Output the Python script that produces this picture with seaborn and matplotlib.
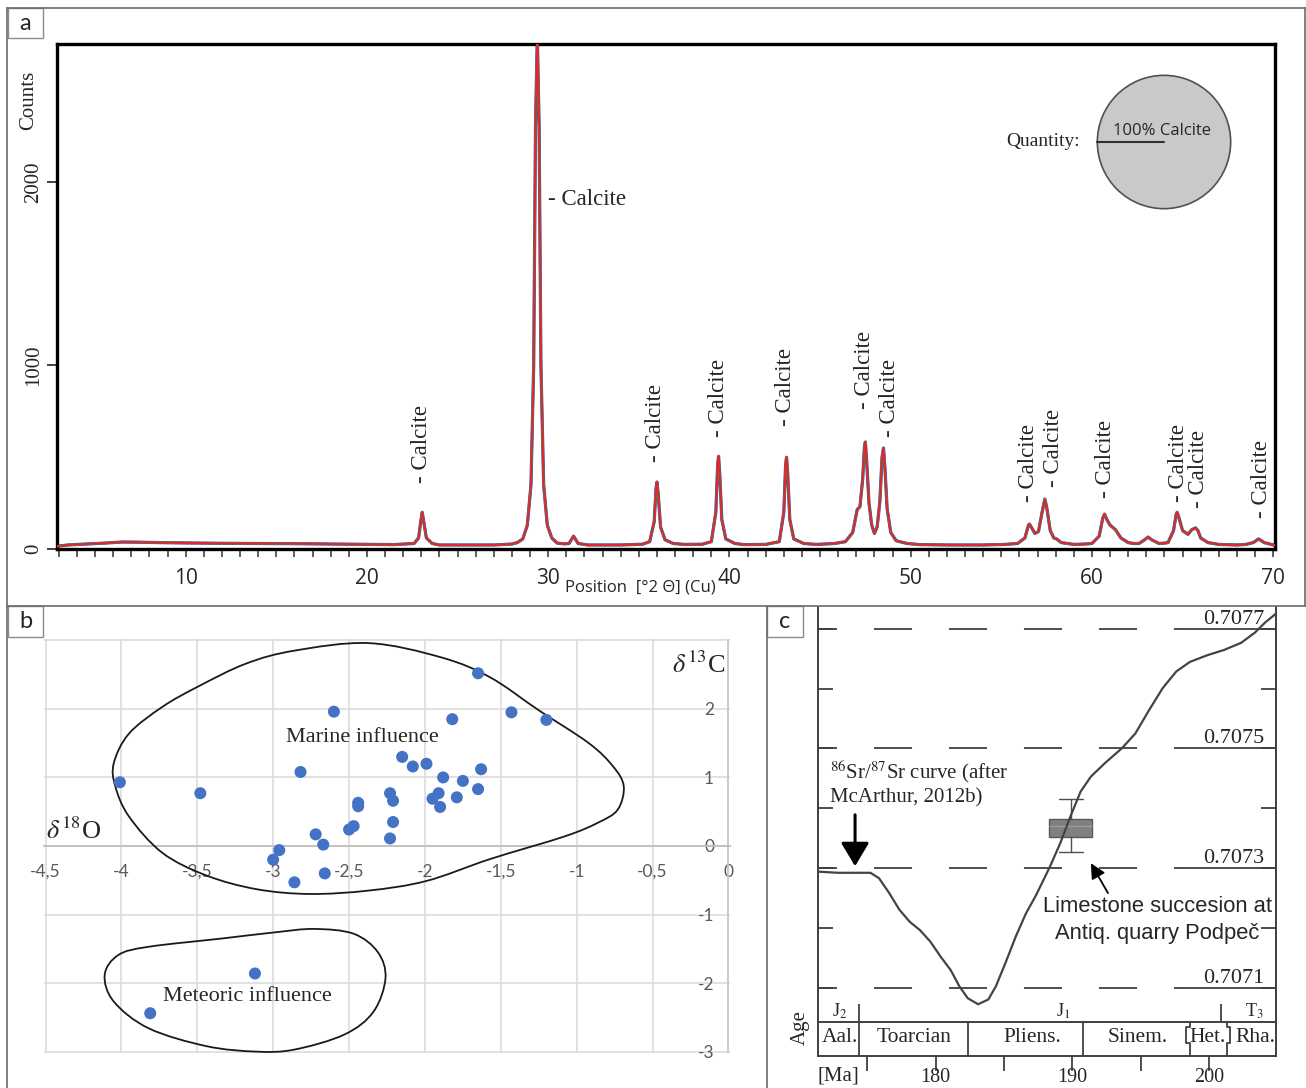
import numpy as np
import pandas as pd
import matplotlib
matplotlib.use('Agg')
import matplotlib.pyplot as plt
from matplotlib.path import Path
from matplotlib.patches import PathPatch, Rectangle
from matplotlib.lines import Line2D
import seaborn as sns

# --- panel a: XRD pattern ---
two_theta = [2.9, 3.5, 4.5, 5.5, 6.5, 7.5, 8.5, 10, 12, 14, 16, 18, 20, 21.5,
             22.6, 22.85, 22.97, 23.05, 23.13, 23.28, 23.6, 24, 25.5, 27, 28.0, 28.3,
             28.6, 28.85, 29.05, 29.2, 29.3, 29.4, 29.5, 29.6, 29.75, 29.95, 30.2, 30.5, 30.9,
             31.15, 31.4, 31.65, 32.2, 34, 35.2,
             35.6, 35.85, 35.95, 36.0, 36.07, 36.2, 36.45, 36.9, 37.5, 38.5,
             39.0, 39.25, 39.35, 39.4, 39.46, 39.58, 39.8, 40.3, 40.8, 42.0,
             42.75, 43.0, 43.1, 43.15, 43.21, 43.33, 43.55, 44.1, 44.8, 45.8,
             46.4, 46.8, 47.05, 47.2, 47.35, 47.45, 47.5, 47.57, 47.7, 47.85, 48.0,
             48.15, 48.3, 48.42, 48.5, 48.58, 48.7, 48.9, 49.2, 49.8, 50.5, 52, 54, 55.2,
             55.9, 56.3, 56.5, 56.55, 56.65, 56.85, 57.05, 57.25, 57.4, 57.5, 57.7,
             57.9, 58.05, 58.3, 59.0, 59.6,
             60.0, 60.4, 60.6, 60.7, 60.8, 61.0, 61.3, 61.6, 62.0, 62.3,
             62.6, 62.9, 63.1, 63.3, 63.7, 64.0,
             64.2, 64.5, 64.65, 64.7, 64.8, 65.0, 65.3, 65.5, 65.72, 65.85, 66.0, 66.4,
             67.0, 68.0, 68.5, 68.9, 69.2, 69.5, 70.1]
counts = [15, 22, 27, 32, 38, 37, 35, 33, 31, 30, 29, 27, 25, 24,
          30, 60, 150, 200, 150, 60, 30, 22, 22, 22, 27, 35,
          55, 130, 350, 1000, 2300, 2800, 2300, 1000, 350, 130, 60, 32, 28,
          30, 70, 30, 22, 22, 26,
          40, 150, 330, 365, 300, 120, 50, 30, 25, 26,
          40, 200, 460, 505, 420, 160, 55, 30, 24, 25,
          40, 200, 460, 500, 420, 160, 55, 30, 25, 30,
          40, 90, 215, 230, 380, 560, 583, 480, 250, 130, 85,
          120, 260, 500, 550, 440, 220, 90, 45, 30, 24, 22, 22, 25,
          30, 60, 130, 136, 120, 85, 95, 200, 272, 230, 100,
          60, 55, 35, 25, 27,
          30, 70, 170, 190, 165, 130, 105, 60, 35, 30,
          30, 50, 65, 50, 30, 32,
          35, 100, 190, 200, 170, 100, 80, 105, 115, 100, 60, 35,
          25, 22, 25, 35, 55, 35, 20]

peak_label_x = [23.02, 35.94, 39.41, 43.11, 47.47, 48.85, 56.52, 57.9, 60.77, 64.75, 65.9, 69.33]
peak_label_y = [360, 474, 610, 670, 763, 610, 256, 338, 278, 256, 223, 169]
main_label_xy = (30.0, 1907)
pie_share = [100]
pie_label = '100% Calcite'

# --- panel b: stable isotopes ---
d18O = [-1.65, -2.60, -1.43, -1.82, -1.20, -2.15, -2.08, -1.99, -2.82, -4.01,
        -1.88, -1.63, -1.75, -3.48, -2.23, -2.21, -1.91, -1.95, -1.79, -1.65,
        -1.90, -2.44, -2.44, -2.21, -2.47, -2.50, -2.72, -2.23, -2.67, -2.96,
        -3.00, -2.66, -2.86, -3.12, -3.81]
d13C = [2.52, 1.96, 1.95, 1.85, 1.84, 1.30, 1.16, 1.20, 1.08, 0.93,
        1.00, 1.12, 0.95, 0.77, 0.77, 0.66, 0.77, 0.69, 0.71, 0.83,
        0.57, 0.63, 0.58, 0.35, 0.29, 0.24, 0.17, 0.11, 0.02, -0.06,
        -0.20, -0.40, -0.53, -1.86, -2.44]
b_xticks = [-4.5, -4, -3.5, -3, -2.5, -2, -1.5, -1, -0.5, 0]
b_xticklabels = ['-4,5', '-4', '-3,5', '-3', '-2,5', '-2', '-1,5', '-1', '-0,5', '0']
b_yticks = [-3, -2, -1, 0, 1, 2, 3]
b_yticklabels = ['-3', '-2', '-1', '0', '1', '2', '']
marine_x = [-2.37, -1.89, -1.57, -1.25, -0.92, -0.76, -0.69, -0.73, -0.86, -1.08, -1.57,
            -1.99, -2.37, -2.76, -3.11, -3.44, -3.73, -3.95, -4.04, -4.05, -3.95, -3.73,
            -3.50, -3.18, -2.86]
marine_y = [2.96, 2.75, 2.46, 1.98, 1.50, 1.16, 0.87, 0.53, 0.34, 0.14, -0.19,
            -0.51, -0.65, -0.70, -0.63, -0.43, -0.10, 0.43, 0.87, 1.21, 1.64, 2.03,
            2.32, 2.66, 2.85]
meteoric_x = [-2.73, -2.47, -2.31, -2.26, -2.34, -2.53, -2.86, -3.11, -3.44, -3.82,
              -4.05, -4.11, -4.02, -3.82, -3.34, -2.99]
meteoric_y = [-1.21, -1.28, -1.55, -1.93, -2.42, -2.75, -2.97, -3.00, -2.92, -2.66,
              -2.27, -1.88, -1.59, -1.47, -1.35, -1.26]

# --- panel c: 87Sr/86Sr curve ---
sr_age = [171.36, 172.86, 175.24, 175.86, 176.61, 177.36, 178.11, 178.86, 179.61, 180.36,
          181.11, 181.74, 182.36, 183.11, 183.86, 184.41, 185.11, 185.86, 186.61, 187.36,
          188.36, 189.11, 189.86, 190.61, 191.36, 192.36, 193.61, 194.61, 195.61, 196.61,
          197.61, 198.61, 199.86, 201.11, 202.36, 203.36, 204.11, 204.86]
sr_ratio = [0.707294, 0.707292, 0.707292, 0.707283, 0.707258, 0.707230, 0.707210, 0.707196,
            0.707177, 0.707152, 0.707129, 0.707102, 0.707082, 0.707072, 0.707080, 0.707102,
            0.707141, 0.707185, 0.707224, 0.707255, 0.707302, 0.707341, 0.707386, 0.707428,
            0.707453, 0.707475, 0.707500, 0.707525, 0.707564, 0.707601, 0.707629, 0.707645,
            0.707656, 0.707665, 0.707677, 0.707694, 0.707711, 0.707725]
sample_box = dict(med=0.7073704, q1=0.7073525, q3=0.7073821,
                  whislo=0.7073263, whishi=0.7074156, fliers=[])
sample_age = 189.88
c_ticks = [0.7071, 0.7072, 0.7073, 0.7074, 0.7075, 0.7076, 0.7077]
c_labels = [0.7071, 0.7073, 0.7075, 0.7077]
stage_names = ['Aal.', 'Toarcian', 'Pliens.', 'Sinem.', 'Het.', 'Rha.']
stage_mid = [173.0, 178.4, 187.1, 194.75, 199.93, 203.4]
stage_bounds = [174.43, 182.35, 190.80]
period_names = ['J$_2$', 'J$_1$', 'T$_3$']
period_mid = [173.0, 189.3, 203.35]
period_bounds = [174.43, 200.91]
age_ticks = [175, 180, 185, 190, 195, 200]
age_labels = ['', '180', '', '190', '', '200']

sns.set_style('white')
plt.rcParams['font.family'] = ['Liberation Serif', 'DejaVu Serif']
plt.rcParams['mathtext.fontset'] = 'stix'
plt.rcParams['lines.scale_dashes'] = False

W, H = 1306, 1088
fig = plt.figure(figsize=(W / 100, H / 100), dpi=100)


def box(l, t, r, b):
    return [l / W, 1 - b / H, (r - l) / W, (b - t) / H]


def fline(x0, y0, x1, y1, **kw):
    fig.add_artist(Line2D([x0 / W, x1 / W], [1 - y0 / H, 1 - y1 / H], **kw))


def closed_outline(xs, ys):
    pts = np.column_stack([xs, ys])
    n = len(pts)
    verts = [pts[0]]
    codes = [Path.MOVETO]
    for i in range(n):
        p0, p1, p2, p3 = pts[i - 1], pts[i], pts[(i + 1) % n], pts[(i + 2) % n]
        verts += [p1 + (p2 - p0) / 6, p2 - (p3 - p1) / 6, p2]
        codes += [Path.CURVE4] * 3
    return Path(verts, codes)


# frame of the composite figure
frame = dict(color='#6b6b6b', lw=1.2)
fline(7, 8, 1306, 8, **frame)
fline(7, 8, 7, 1088, **frame)
fline(1305, 8, 1305, 606, **frame)
fline(7, 606, 1306, 606, **frame)
fline(767, 606, 767, 1088, **frame)
for letter, (l, t, r, b) in zip('abc', [(8, 8, 43, 38), (8, 606, 43, 637), (767, 606, 803, 637)]):
    fig.add_artist(Rectangle((l / W, 1 - b / H), (r - l) / W, (b - t) / H,
                             transform=fig.transFigure, facecolor='white',
                             edgecolor='#8c8c8c', lw=1))
    fig.text((l + r) / 2 / W, 1 - (t + b) / 2 / H, letter, ha='center', va='center',
             fontsize=17, family=['Lato', 'DejaVu Sans'])

# ================= panel a =================
ax_a = fig.add_axes(box(57, 44, 1275, 549))
df_xrd = pd.DataFrame({'two_theta': two_theta, 'counts': counts})
sns.lineplot(data=df_xrd, x='two_theta', y='counts', ax=ax_a, color='#3b40c8', lw=2.3, zorder=2)
sns.lineplot(data=df_xrd, x='two_theta', y='counts', ax=ax_a, color='#3c9c3c', lw=1.8, zorder=3)
sns.lineplot(data=df_xrd, x='two_theta', y='counts', ax=ax_a, color='#e8232b', lw=1.4, zorder=4)
ax_a.set_xlim(2.9, 70.1)
ax_a.set_ylim(0, 2752)
for s in ax_a.spines.values():
    s.set_linewidth(2.4)
    s.set_color('black')
ax_a.set_xticks(range(10, 71, 10))
ax_a.set_xticks(range(3, 71), minor=True)
ax_a.tick_params(axis='x', which='both', bottom=True, direction='out', length=6,
                 width=1.1, color='#333333', labelsize=15, pad=8)
ax_a.tick_params(axis='y', left=True, direction='out', length=7, width=1.3, color='#333333',
                 labelsize=15, pad=3)
ax_a.set_yticks([0, 1000, 2000], labels=['0', '1000', '2000'])
for lbl in ax_a.get_yticklabels():
    lbl.set_rotation(90)
    lbl.set_va('center')
for lbl in ax_a.get_xticklabels():
    lbl.set_family(['Open Sans', 'DejaVu Sans'])
ax_a.set_xlabel('')
ax_a.set_ylabel('')
fig.text(29 / W, 1 - 100 / H, 'Counts', rotation=90, ha='center', va='center', fontsize=15)
fig.text(640 / W, 1 - 587 / H, 'Position  [°2 Θ] (Cu)', ha='center', va='center',
         fontsize=12, family=['Open Sans', 'DejaVu Sans'])

for x, y in zip(peak_label_x, peak_label_y):
    ax_a.text(x, y, '- Calcite', rotation=90, ha='center', va='bottom', fontsize=16.5)
ax_a.text(main_label_xy[0], main_label_xy[1], '- Calcite', ha='left', va='center', fontsize=16.5)

fig.text(1080 / W, 1 - 141 / H, 'Quantity:', ha='right', va='center', fontsize=14)
ax_pie = fig.add_axes(box(1096, 74, 1232, 210))
ax_pie.pie(pie_share, colors=['#c9c9c9'], startangle=180,
           wedgeprops=dict(edgecolor='#505050', linewidth=1.2))
ax_pie.plot([-1, 0], [0, 0], color='#303030', lw=1.5)
ax_pie.text(-0.03, 0.17, pie_label, ha='center', va='center', fontsize=12,
            family=['Open Sans', 'DejaVu Sans'])
ax_pie.set_xlim(-1.02, 1.02)
ax_pie.set_ylim(-1.02, 1.02)
ax_pie.axis('off')

# ================= panel b =================
ax_b = fig.add_axes(box(44, 639, 730, 1053))
df_iso = pd.DataFrame({'d18O': d18O, 'd13C': d13C})
sns.scatterplot(data=df_iso, x='d18O', y='d13C', ax=ax_b, color='#4472c4', s=75,
                edgecolor='none', zorder=5)
ax_b.set_xlim(-4.51, 0.01)
ax_b.set_ylim(-3.02, 3.02)
ax_b.set_xticks(b_xticks, labels=b_xticklabels)
ax_b.set_yticks(b_yticks, labels=b_yticklabels)
ax_b.grid(True, color='#d9d9d9', lw=1.1)
ax_b.set_axisbelow(True)
for side in ['left', 'top', 'right']:
    ax_b.spines[side].set_visible(False)
ax_b.spines['bottom'].set_position(('data', 0))
ax_b.spines['bottom'].set_color('#bfbfbf')
ax_b.spines['bottom'].set_linewidth(1.3)
ax_b.axvline(0, color='#c8c8c8', lw=1.2, zorder=1)
ax_b.yaxis.tick_right()
ax_b.tick_params(axis='x', length=0, pad=13, labelsize=12.5, labelcolor='#595959')
ax_b.tick_params(axis='y', length=0, pad=-11.5, labelsize=12.5, labelcolor='#595959')
for lbl in ax_b.get_xticklabels() + ax_b.get_yticklabels():
    lbl.set_family(['Liberation Sans Narrow', 'Lato', 'DejaVu Sans'])
for lbl in ax_b.get_yticklabels():
    lbl.set_ha('right')
ax_b.set_xlabel('')
ax_b.set_ylabel('')
for xs, ys in [(marine_x, marine_y), (meteoric_x, meteoric_y)]:
    ax_b.add_patch(PathPatch(closed_outline(xs, ys), facecolor='none',
                             edgecolor='#1a1a1a', lw=1.3, zorder=4))
ax_b.text(-2.41, 1.58, 'Marine influence', ha='center', va='center', fontsize=16, zorder=6)
ax_b.text(-3.17, -2.20, 'Meteoric influence', ha='center', va='center', fontsize=16, zorder=6)
ax_b.text(-4.5, 0.22, r'$\delta\,^{18}$O', ha='left', va='center', fontsize=19)
ax_b.text(-0.02, 2.64, r'$\delta\,^{13}$C', ha='right', va='center', fontsize=19)

# ================= panel c =================
dark = '#404040'
ax_c = fig.add_axes(box(818, 607, 1276, 1021.7))
ax_c.set_xlim(171.4, 204.9)
ax_c.set_ylim(0.7070428, 0.7077368)
for side in ['top', 'bottom']:
    ax_c.spines[side].set_visible(False)
for side in ['left', 'right']:
    ax_c.spines[side].set_color(dark)
    ax_c.spines[side].set_linewidth(1.4)
ax_c.set_yticks(c_ticks)
ax_c.set_xticks([])
ax_c.tick_params(axis='y', left=True, right=True, direction='in', length=11, width=1.3,
                 color=dark, labelleft=False, labelright=False)
for v in c_labels:
    ax_c.axhline(v, xmin=0, xmax=0.79, color=dark, lw=1.3, linestyle=(13.7, (27.4, 26.6)))
    ax_c.axhline(v, xmin=0.79, xmax=1, color=dark, lw=1.3)
    ax_c.text(0.974, v, f'{v:.4f}', transform=ax_c.get_yaxis_transform(), ha='right',
              va='bottom', fontsize=16)
ax_c.bxp([sample_box], positions=[sample_age], widths=3.13, capwidths=1.75,
         patch_artist=True, showfliers=False, manage_ticks=False,
         boxprops=dict(facecolor='#808080', edgecolor='#5a5a5a', lw=1),
         medianprops=dict(color='#9c9c9c', lw=1),
         whiskerprops=dict(color='#505050', lw=1), capprops=dict(color='#505050', lw=1))
sns.lineplot(x=sr_age, y=sr_ratio, ax=ax_c, color='#444444', lw=1.6, zorder=5)
ax_c.set_xlabel('')
ax_c.set_ylabel('')
ax_c.annotate('', xy=(174.11, 0.707303), xytext=(174.11, 0.707389),
              arrowprops=dict(arrowstyle='-|>,head_length=0.72,head_width=0.43',
                              mutation_scale=20, lw=2.2, color='black',
                              shrinkA=0, shrinkB=0))
ax_c.annotate('', xy=(191.36, 0.707308), xytext=(192.61, 0.707258),
              arrowprops=dict(arrowstyle='-|>,head_length=0.6,head_width=0.3',
                              mutation_scale=15, lw=1.3, color='black',
                              shrinkA=0, shrinkB=0))
ax_c.text(172.31, 0.707461, r'$^{86}$Sr/$^{87}$Sr curve (after', ha='left', va='center',
          fontsize=15)
ax_c.text(172.31, 0.707417, 'McArthur, 2012b)', ha='left', va='center', fontsize=15)
ax_c.text(196.24, 0.707235, 'Limestone succesion at', ha='center', va='center',
          fontsize=15.8, family=['Liberation Sans', 'DejaVu Sans'])
ax_c.text(196.24, 0.707191, 'Antiq. quarry Podpeč', ha='center', va='center',
          fontsize=15.8, family=['Liberation Sans', 'DejaVu Sans'])
for name, x in zip(period_names, period_mid):
    ax_c.text(x, 0.7070595, name, ha='center', va='center', fontsize=13)
ax_c.vlines(period_bounds, 0.7070428, 0.7070716, color=dark, lw=1.3)

ax_s = fig.add_axes(box(818, 1021.7, 1276, 1055.7))
ax_s.set_xlim(171.4, 204.9)
ax_s.set_ylim(0, 1)
for s in ax_s.spines.values():
    s.set_color(dark)
    s.set_linewidth(1.4)
ax_s.vlines(stage_bounds, 0, 1, color=dark, lw=1.3)
ax_s.plot([198.64, 198.64, 198.35, 198.35, 198.64, 198.64], [1, 0.85, 0.85, 0.36, 0.36, 0],
          color=dark, lw=1.3)
ax_s.plot([201.32, 201.32, 201.54, 201.54, 201.32, 201.32], [1, 0.85, 0.85, 0.36, 0.36, 0],
          color=dark, lw=1.3)
for name, x in zip(stage_names, stage_mid):
    ax_s.text(x, 0.55, name, ha='center', va='center', fontsize=15.5)
ax_s.set_yticks([])
ax_s.set_xticks(age_ticks, labels=age_labels)
ax_s.tick_params(axis='x', bottom=True, direction='out', length=11, width=1.3, color=dark,
                 labelsize=14.5, pad=-2)
fig.text(800 / W, 1 - 1028 / H, 'Age', rotation=90, ha='center', va='center', fontsize=15)
fig.text(838 / W, 1 - 1076 / H, '[Ma]', ha='center', va='center', fontsize=15)

fig.savefig('out.png', dpi=100)
